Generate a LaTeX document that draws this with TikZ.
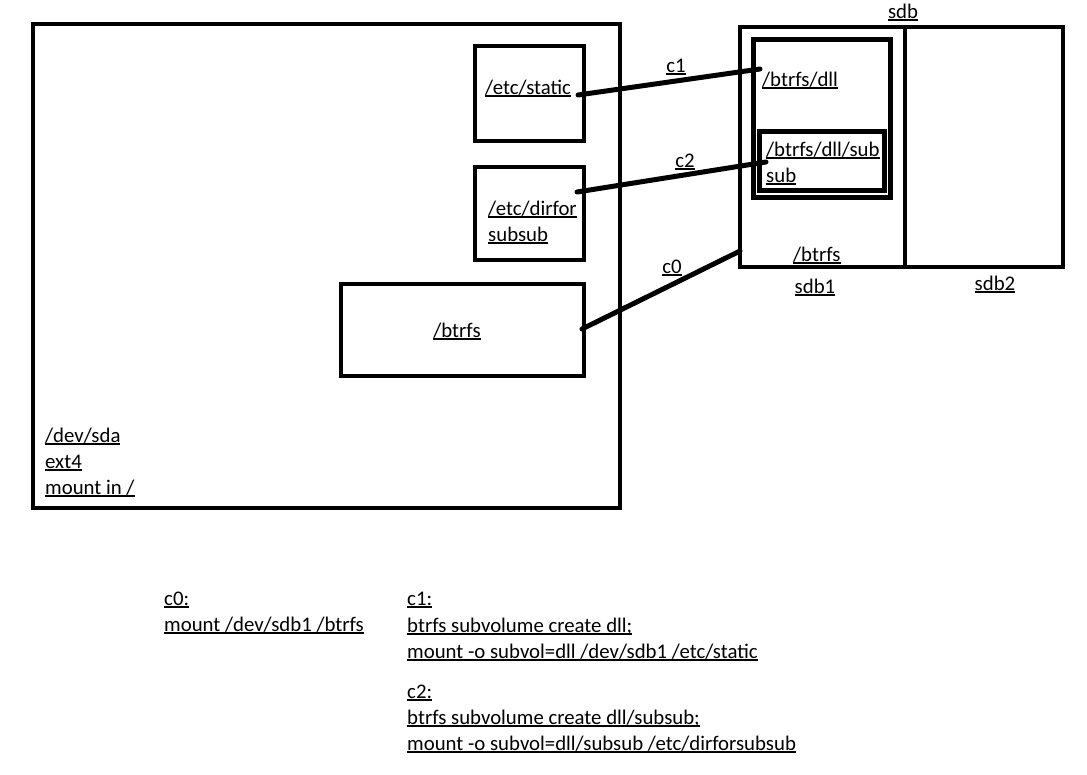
\documentclass[tikz,border=0pt]{standalone}
\usepackage{fontspec}
\setmainfont{Carlito}
\newcommand\uln[1]{\setbox0\hbox{#1}\rlap{\rule[-2.6pt]{\wd0}{1.4pt}}\box0}
\begin{document}
\begin{tikzpicture}[x=1pt,y=-1pt,
  box/.style={draw=black,line width=4.5pt,inner sep=0pt,minimum width=#1},
  thick box/.style={draw=black,line width=5pt,inner sep=0pt},
  conn/.style={draw=black,line width=5pt,line cap=round},
  txt/.style={inner sep=0pt,font=\fontsize{20.8}{26}\selectfont}]
\useasboundingbox[fill=white] (0,0) rectangle (1087,774);
% boxes
\node[box=587pt,minimum height=484pt] (sda) at (326.5,266) {};
\node[box=109pt,minimum height=95pt] (static) at (529.5,93.5) {};
\node[box=109pt,minimum height=93pt] (dirfor) at (529.5,213.5) {};
\node[box=243pt,minimum height=92pt] (btrfsbox) at (462.5,330) {};
\node[box=323pt,minimum height=240pt] (sdb) at (901.5,147) {};
\coordinate (divtop) at (905,27);
\coordinate (divbot) at (905,267);
\draw[line width=4.5pt] (divtop) -- (divbot);
\node[thick box,minimum width=137pt,minimum height=158pt] (dll) at (821.5,118) {};
\node[thick box,minimum width=125pt,minimum height=59pt] (sub) at (821.5,160.5) {};
% texts
\node[txt,anchor=base] (tsdb) at (903,18) {\uln{sdb}};
\node[txt,anchor=base west] (tdll) at (762,86) {\uln{/btrfs/dll}};
\node[txt,anchor=base west] (tsub1) at (766,156) {\uln{/btrfs/dll/sub}};
\node[txt,anchor=base west] (tsub2) at (766,182) {\uln{sub}};
\node[txt,anchor=base west] (tbtrfs1) at (793,261) {\uln{/btrfs}};
\node[txt,anchor=base] (tsdb1) at (815,293) {\uln{sdb1}};
\node[txt,anchor=base] (tsdb2) at (995,290) {\uln{sdb2}};
\node[txt,anchor=base west] (tstatic) at (485,94) {\uln{/etc/static}};
\node[txt,anchor=base west] (tdirfor1) at (488,215) {\uln{/etc/dirfor}};
\node[txt,anchor=base west] (tdirfor2) at (488,241) {\uln{subsub}};
\node[txt,anchor=base] (tbtrfs0) at (457,337) {\uln{/btrfs}};
\node[txt,anchor=base west] (tsda1) at (45,442) {\uln{/dev/sda}};
\node[txt,anchor=base west] (tsda2) at (45,468) {\uln{ext4}};
\node[txt,anchor=base west] (tsda3) at (45,494) {\uln{mount in /}};
% connector labels
\node[txt,anchor=base] (lc1) at (676,72) {\uln{c1}};
\node[txt,anchor=base] (lc2) at (685,167) {\uln{c2}};
\node[txt,anchor=base] (lc0) at (672,273) {\uln{c0}};
% connectors
\coordinate (c1a) at (578,95);
\coordinate (c1b) at (760,69);
\coordinate (c2a) at (577,192);
\coordinate (c2b) at (766,162);
\coordinate (c0a) at (582,329);
\coordinate (c0b) at (740,251);
\draw[conn] (c1a) -- (c1b);
\draw[conn] (c2a) -- (c2b);
\draw[conn] (c0a) -- (c0b);
% bottom notes
\node[txt,anchor=base west] (n0a) at (164,605) {\uln{c0:}};
\node[txt,anchor=base west] (n0b) at (164,631) {\uln{mount /dev/sdb1 /btrfs}};
\node[txt,anchor=base west] (n1a) at (407,605) {\uln{c1:}};
\node[txt,anchor=base west] (n1b) at (407,632) {\uln{btrfs subvolume create dll;}};
\node[txt,anchor=base west] (n1c) at (407,658) {\uln{mount -o subvol=dll /dev/sdb1 /etc/static}};
\node[txt,anchor=base west] (n2a) at (407,698) {\uln{c2:}};
\node[txt,anchor=base west] (n2b) at (407,724) {\uln{btrfs subvolume create dll/subsub;}};
\node[txt,anchor=base west] (n2c) at (407,750) {\uln{mount -o subvol=dll/subsub /etc/dirforsubsub}};
\end{tikzpicture}
\end{document}
